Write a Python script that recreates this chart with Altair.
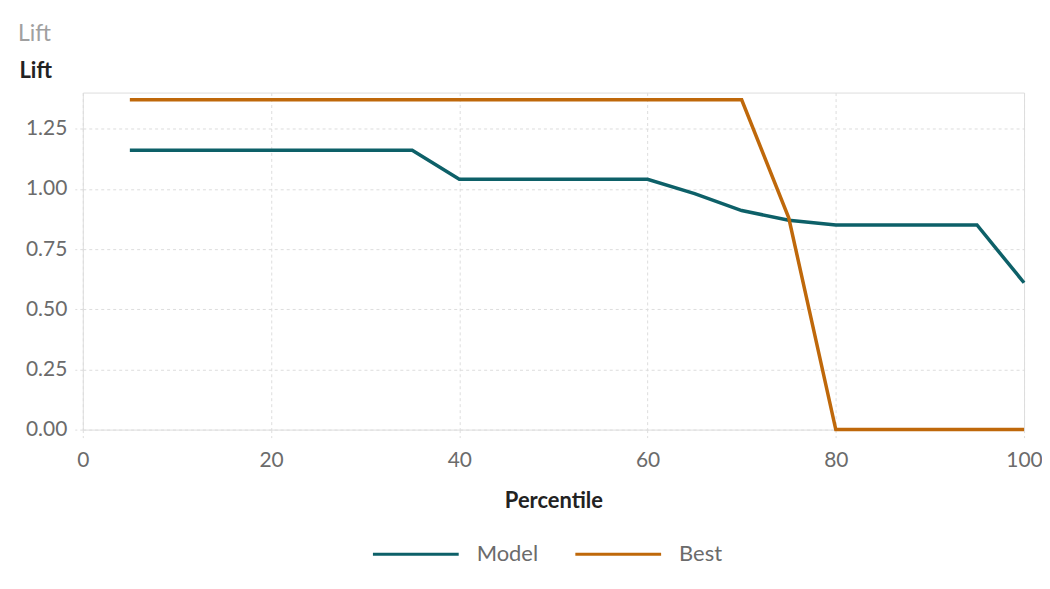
import altair as alt
import pandas as pd

percentile = [5, 10, 15, 20, 25, 30, 35, 40, 45, 50, 55, 60, 65, 70, 75, 80, 85, 90, 95, 100]
model_lift = [1.16, 1.16, 1.16, 1.16, 1.16, 1.16, 1.16, 1.04, 1.04, 1.04, 1.04, 1.04, 0.98, 0.91, 0.87, 0.85, 0.85, 0.85, 0.85, 0.61]
best_lift = [1.37, 1.37, 1.37, 1.37, 1.37, 1.37, 1.37, 1.37, 1.37, 1.37, 1.37, 1.37, 1.37, 1.37, 0.88, 0.0, 0.0, 0.0, 0.0, 0.0]
series = ["Model", "Best"]
colors = ["#0D6068", "#BF680A"]

rows = []
for p, m in zip(percentile, model_lift):
    rows.append({"Percentile": p, "Lift": m, "Series": "Model"})
for p, b in zip(percentile, best_lift):
    rows.append({"Percentile": p, "Lift": b, "Series": "Best"})
df = pd.DataFrame(rows)

FONT = "Lato"
GRID = "#dddddd"

chart = alt.Chart(df).mark_line(strokeWidth=3.5).encode(
    x=alt.X("Percentile:Q",
            scale=alt.Scale(domain=[0, 100], nice=False),
            axis=alt.Axis(values=[0, 20, 40, 60, 80, 100], title="Percentile",
                          grid=True, gridDash=[3, 3], gridColor=GRID,
                          domain=False, ticks=True, tickDash=[3, 3], tickColor=GRID, tickSize=8,
                          labelFlush=False,
                          labelFontSize=21, labelColor="#6b6b6b", labelFont=FONT, labelPadding=12,
                          titleFontSize=22, titleFont=FONT, titleFontWeight="bold", titleColor="#222222",
                          titlePadding=20)),
    y=alt.Y("Lift:Q",
            scale=alt.Scale(domain=[0, 1.4], nice=False),
            axis=alt.Axis(values=[0, 0.25, 0.5, 0.75, 1.0, 1.25], format=".2f", title="Lift",
                          grid=True, gridDash=[3, 3], gridColor=GRID,
                          domain=False, ticks=True, tickDash=[3, 3], tickColor=GRID, tickSize=8,
                          labelFlush=False,
                          labelFontSize=21, labelColor="#6b6b6b", labelFont=FONT, labelPadding=8,
                          titleFontSize=22, titleFont=FONT, titleFontWeight="bold", titleColor="#222222",
                          titleAngle=0, titleAlign="left", titleBaseline="middle",
                          titleX=-64, titleY=-22)),
    color=alt.Color("Series:N",
                    scale=alt.Scale(domain=series, range=colors),
                    sort=series,
                    legend=alt.Legend(title=None, orient="none", direction="horizontal",
                                      legendX=289, legendY=418,
                                      symbolType="stroke", symbolSize=7400, symbolStrokeWidth=3,
                                      labelFontSize=22, labelFont=FONT, labelColor="#6b6b6b",
                                      labelOffset=16, columnPadding=30)),
).properties(
    width=944,
    height=338,
    title=alt.TitleParams("Lift", anchor="start", frame="group", dx=-65, dy=-10,
                          fontSize=23, font=FONT, fontWeight="normal", color="#a0a0a0"),
    padding={"left": 75, "top": 84, "right": 18, "bottom": 150},
    autosize=alt.AutoSizeParams(type="none"),
).configure_view(
    strokeWidth=0
).configure(background="white")

chart.save("out.html", embed_options={"renderer": "svg", "actions": False})
